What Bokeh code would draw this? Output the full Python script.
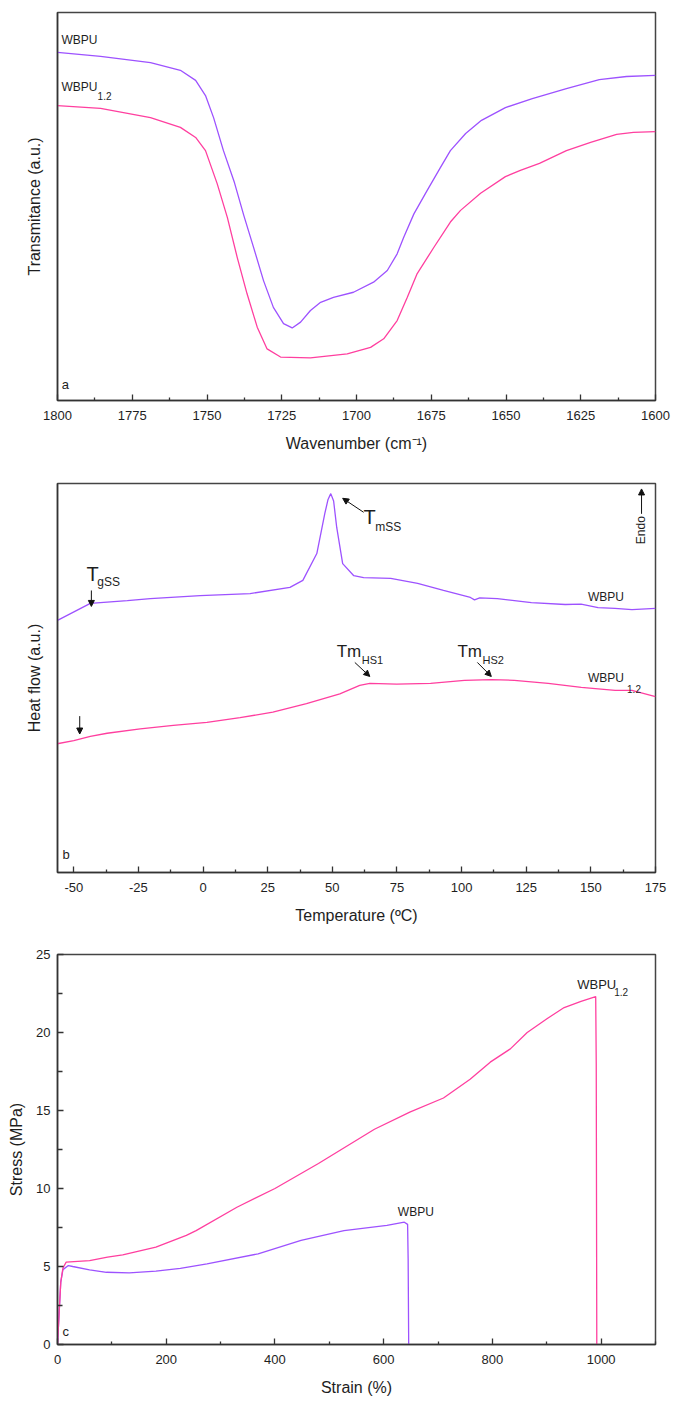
import math
from bokeh.plotting import figure
from bokeh.models import Range1d, FixedTicker, Arrow, NormalHead, Label
from bokeh.layouts import column
from bokeh.embed import file_html
from bokeh.resources import INLINE

FONT = "Liberation Sans"
PURPLE = "#9d52ff"
PINK = "#ff3f9f"
TXT = "#1e1e1e"

# ---------------- Panel a : FTIR ----------------
ftir_wn_wbpu = [1800.0, 1785.6, 1768.9, 1758.9, 1753.8, 1750.5, 1747.8, 1744.5, 1740.8, 1737.7,
                1734.4, 1731.1, 1727.8, 1724.4, 1721.5, 1718.7, 1715.4, 1712.0, 1707.7, 1701.0,
                1694.3, 1689.7, 1686.4, 1684.2, 1680.8, 1676.4, 1671.9, 1668.6, 1663.5, 1658.2,
                1650.2, 1641.2, 1629.8, 1618.8, 1609.7, 1600.0]
ftir_t_wbpu = [89.7, 88.7, 87.1, 85.1, 82.5, 78.6, 72.9, 64.4, 56.1, 47.7,
               39.4, 30.9, 24.0, 19.8, 18.7, 20.2, 23.2, 25.3, 26.6, 27.9,
               30.5, 33.5, 37.8, 42.1, 48.1, 54.1, 60.1, 64.4, 68.8, 72.2,
               75.5, 77.8, 80.4, 82.7, 83.5, 83.8]
ftir_wn_wbpu12 = [1800.0, 1785.6, 1768.9, 1758.9, 1753.8, 1750.5, 1746.6, 1743.2, 1739.9, 1736.6,
                  1733.2, 1729.9, 1725.4, 1715.4, 1703.1, 1695.3, 1690.9, 1686.4, 1683.0, 1679.7,
                  1674.1, 1668.6, 1665.2, 1658.5, 1650.2, 1645.2, 1638.8, 1629.8, 1621.7, 1613.0,
                  1607.4, 1600.0]
ftir_t_wbpu12 = [76.0, 75.3, 72.9, 70.4, 67.8, 64.4, 55.9, 47.2, 36.9, 27.5,
                 18.9, 13.3, 11.2, 11.0, 12.0, 13.7, 15.9, 20.6, 26.6, 32.7,
                 39.5, 46.0, 49.0, 53.4, 57.7, 59.3, 61.1, 64.4, 66.5, 68.6,
                 69.1, 69.3]
ftir_major_ticks = [1800, 1775, 1750, 1725, 1700, 1675, 1650, 1625, 1600]
ftir_minor_ticks = [1787.5, 1762.5, 1737.5, 1712.5, 1687.5, 1662.5, 1637.5, 1612.5]

# ---------------- Panel b : DSC ----------------
dsc_temp_wbpu = [-56.3, -43.6, -29.3, -20.4, -1.1, 18.2, 33.6, 38.6, 44.0, 47.1,
                 48.3, 49.4, 50.5, 51.7, 54.0, 58.3, 62.1, 72.6, 83.0, 93.0,
                 103.4, 105.0, 107.0, 113.8, 127.0, 140.1, 146.2, 152.8, 159.3, 165.9, 175.0]
dsc_hf_wbpu = [64.8, 69.2, 69.9, 70.4, 71.2, 71.7, 73.3, 75.1, 82.0, 92.3,
               95.8, 97.4, 95.5, 88.7, 79.4, 76.3, 75.8, 75.6, 74.3, 72.5,
               70.7, 70.1, 70.6, 70.4, 69.4, 68.9, 69.0, 68.1, 67.9, 67.6, 67.9]
dsc_temp_wbpu12 = [-56.4, -50.0, -43.6, -37.1, -24.3, -11.5, 1.5, 14.3, 27.0, 40.0,
                   52.9, 60.6, 64.5, 74.9, 88.0, 101.1, 111.5, 120.4, 133.5, 146.3,
                   159.4, 165.9, 175.0]
dsc_hf_wbpu12 = [33.1, 33.9, 35.0, 35.8, 36.9, 37.8, 38.6, 39.8, 41.2, 43.4,
                 45.9, 48.1, 48.6, 48.4, 48.6, 49.4, 49.6, 49.4, 48.6, 47.6,
                 46.8, 46.8, 45.2]
dsc_major_ticks = [-50, -25, 0, 25, 50, 75, 100, 125, 150, 175]
dsc_minor_ticks = [-37.5, -12.5, 12.5, 37.5, 62.5, 87.5, 112.5, 137.5, 162.5]

# ---------------- Panel c : tensile ----------------
strain_wbpu = [0, 3, 6, 10, 20, 28, 59, 90, 132, 181, 226, 275, 369, 448, 527, 606, 638, 644, 645, 646]
stress_wbpu = [0, 2.0, 4.0, 4.8, 5.06, 5.0, 4.79, 4.63, 4.59, 4.7, 4.88, 5.17, 5.81, 6.67, 7.3, 7.63, 7.84, 7.7, 5.5, 0]
strain_wbpu12 = [0, 3, 6, 10, 16, 59, 92, 120, 181, 237, 255, 330, 400, 480, 583, 648, 710, 759, 796,
                 833, 864, 901, 932, 963, 990, 991, 992]
stress_wbpu12 = [0, 2.0, 4.0, 4.9, 5.28, 5.38, 5.6, 5.75, 6.24, 6.99, 7.3, 8.8, 10.0, 11.6, 13.8, 14.9, 15.8,
                 17.0, 18.1, 18.95, 20.0, 20.9, 21.6, 22.0, 22.3, 18.0, 0]
tens_x_major = [0, 200, 400, 600, 800, 1000]
tens_x_minor = [100, 300, 500, 700, 900, 1100]
tens_y_major = [0, 5, 10, 15, 20, 25]
tens_y_minor = [2.5, 7.5, 12.5, 17.5, 22.5]


def make_fig(height, top, bottom, x_range, y_range, xlabel, ylabel):
    p = figure(width=673, height=height, x_range=x_range, y_range=y_range,
               output_backend="svg", toolbar_location=None,
               min_border_left=57, min_border_right=18, min_border_top=top, min_border_bottom=bottom)
    p.xgrid.visible = False
    p.ygrid.visible = False
    p.background_fill_color = "white"
    p.border_fill_color = "white"
    p.outline_line_color = "#444444"
    p.outline_line_width = 1.5
    for ax in (p.xaxis[0], p.yaxis[0]):
        ax.axis_line_color = "#333333"
        ax.axis_line_width = 1.5
        ax.major_tick_in = 6
        ax.major_tick_out = 0
        ax.minor_tick_in = 3
        ax.minor_tick_out = 0
        ax.major_tick_line_color = "#333333"
        ax.minor_tick_line_color = "#333333"
        ax.major_tick_line_width = 1.3
        ax.minor_tick_line_width = 1.3
        ax.major_label_text_font = FONT
        ax.major_label_text_font_size = "13px"
        ax.major_label_text_color = TXT
        ax.axis_label_text_font = FONT
        ax.axis_label_text_font_size = "16px"
        ax.axis_label_text_font_style = "normal"
        ax.axis_label_text_color = TXT
    p.xaxis.axis_label = xlabel
    p.yaxis.axis_label = ylabel
    p.xaxis.major_label_standoff = 10
    p.xaxis.axis_label_standoff = 12
    return p


def lab(p, x, y, text, size="12px", align="left", angle=0.0):
    # y is the visual centre of the text
    p.add_layout(Label(x=x, y=y, text=text, text_font=FONT, text_font_size=size,
                       text_color=TXT, text_align=align, text_baseline="middle", angle=angle))


def arrow(p, x0, y0, x1, y1):
    p.add_layout(Arrow(end=NormalHead(size=6, fill_color="#111111", line_color="#111111"),
                       x_start=x0, y_start=y0, x_end=x1, y_end=y1,
                       line_color="#111111", line_width=1))


# ---- panel a
pa = make_fig(468, 12, 68, Range1d(1800, 1600), Range1d(0, 100),
              "Wavenumber (cm\u207b\u00b9)", "Transmitance (a.u.)")
pa.xaxis.ticker = FixedTicker(ticks=ftir_major_ticks, minor_ticks=ftir_minor_ticks)
pa.yaxis.ticker = FixedTicker(ticks=[], minor_ticks=[])
pa.yaxis.axis_label_standoff = 15
pa.line(ftir_wn_wbpu, ftir_t_wbpu, line_color=PURPLE, line_width=1.3)
pa.line(ftir_wn_wbpu12, ftir_t_wbpu12, line_color=PINK, line_width=1.3)
lab(pa, 1798.7, 92.9, "WBPU")
lab(pa, 1798.7, 80.7, "WBPU")
lab(pa, 1786.6, 78.4, "1.2", size="10px")
lab(pa, 1798.6, 4.0, "a", size="13px")

# ---- panel b
pb = make_fig(472, 15, 68, Range1d(-56.3, 175), Range1d(0, 100),
              "Temperature (\u00baC)", "Heat flow (a.u.)")
pb.xaxis.ticker = FixedTicker(ticks=dsc_major_ticks, minor_ticks=dsc_minor_ticks)
pb.xaxis.major_label_overrides = {-50: "-50", -25: "-25"}
pb.yaxis.ticker = FixedTicker(ticks=[], minor_ticks=[])
pb.yaxis.axis_label_standoff = 15
pb.line(dsc_temp_wbpu, dsc_hf_wbpu, line_color=PURPLE, line_width=1.3)
pb.line(dsc_temp_wbpu12, dsc_hf_wbpu12, line_color=PINK, line_width=1.3)
lab(pb, -45.1, 76.7, "T", size="20px")
lab(pb, -40.9, 74.6, "gSS", size="12px")
arrow(pb, -43.2, 72.5, -43.2, 68.4)
arrow(pb, -47.7, 40.2, -47.7, 35.6)
lab(pb, 62.1, 91.3, "T", size="20px")
lab(pb, 66.6, 88.9, "mSS", size="12px")
arrow(pb, 62.1, 92.6, 54.0, 96.2)
lab(pb, 51.7, 56.9, "Tm", size="17px")
lab(pb, 61.4, 54.5, "HS1", size="11px")
arrow(pb, 58.7, 54.0, 64.5, 50.4)
lab(pb, 98.4, 56.9, "Tm", size="17px")
lab(pb, 108.1, 54.5, "HS2", size="11px")
arrow(pb, 106.1, 54.0, 111.5, 50.4)
lab(pb, 148.9, 70.7, "WBPU")
lab(pb, 148.9, 50.1, "WBPU")
lab(pb, 164.0, 47.3, "1.2", size="10px")
arrow(pb, 169.6, 92.2, 169.6, 98.6)
lab(pb, 169.3, 91.6, "Endo", size="12px", align="right", angle=math.pi / 2)
lab(pb, -54.4, 4.6, "b", size="13px")

# ---- panel c
pc = make_fig(464, 14, 60, Range1d(0, 1100), Range1d(0, 25), "Strain (%)", "Stress (MPa)")
pc.xaxis.ticker = FixedTicker(ticks=tens_x_major, minor_ticks=tens_x_minor)
pc.yaxis.ticker = FixedTicker(ticks=tens_y_major, minor_ticks=tens_y_minor)
pc.yaxis.minor_tick_in = 5
pc.yaxis.major_label_standoff = 7
pc.yaxis.axis_label_standoff = 8
pc.line(strain_wbpu, stress_wbpu, line_color=PURPLE, line_width=1.3)
pc.line(strain_wbpu12, stress_wbpu12, line_color=PINK, line_width=1.3)
lab(pc, 626, 8.5, "WBPU")
lab(pc, 956, 23.1, "WBPU", size="13px")
lab(pc, 1024, 22.6, "1.2", size="10px")
lab(pc, 9, 0.85, "c", size="13px")

layout = column(pa, pb, pc, spacing=0)
open("out.html", "w").write(file_html(layout, INLINE))
